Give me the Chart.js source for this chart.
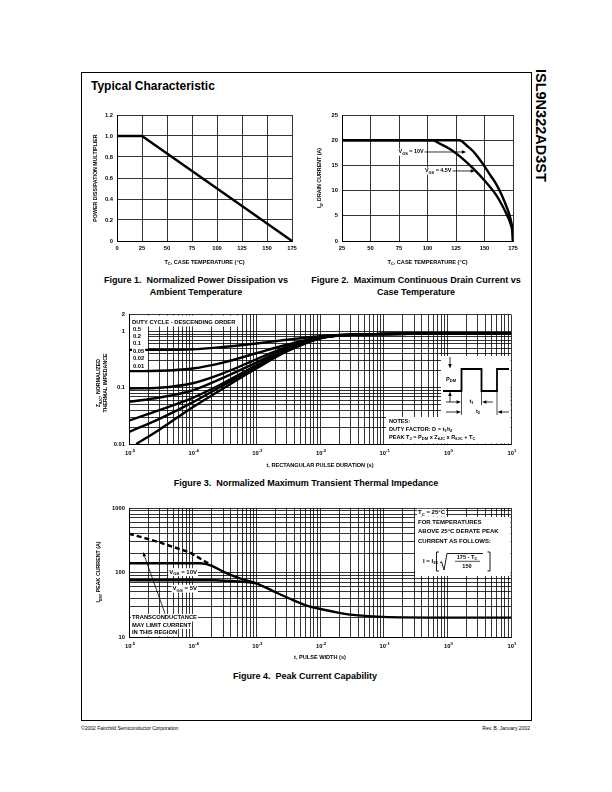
<!DOCTYPE html>
<html>
<head>
<meta charset="utf-8">
<title>ISL9N322AD3ST Typical Characteristic</title>
<script src="https://cdn.jsdelivr.net/npm/chart.js@4.4.1/dist/chart.umd.min.js"></script>
<style>
  html, body { margin: 0; padding: 0; background: #fff; }
  #page { position: relative; width: 612px; height: 792px; overflow: hidden;
          font-family: "Liberation Sans", Arial, Helvetica, sans-serif; color: #000; }
  .frame { position: absolute; left: 81px; top: 72px; width: 449px; height: 647px; border: 1px solid #000; }
  .title { position: absolute; left: 91px; top: 79px; font-size: 12px; line-height: 14px; font-weight: bold; white-space: nowrap; }
  .side { position: absolute; left: 533px; top: 69px; writing-mode: vertical-rl; font-size: 14.5px; line-height: 16px; font-weight: bold; }
  .cap { position: absolute; width: 300px; text-align: center; font-size: 9px; line-height: 12px; font-weight: bold; white-space: nowrap; }
  .foot { position: absolute; top: 725px; font-size: 5px; line-height: 6px; white-space: nowrap; }
  .cw { position: absolute; }
</style>
</head>
<body>
<div id="page">
  <div class="frame"></div>
  <div class="title">Typical Characteristic</div>
  <div class="side">ISL9N322AD3ST</div>
  <div class="cap" style="left:46px; top:274px">Figure 1.&nbsp; Normalized Power Dissipation vs<br>Ambient Temperature</div>
  <div class="cap" style="left:266px; top:274px">Figure 2.&nbsp; Maximum Continuous Drain Current vs<br>Case Temperature</div>
  <div class="cap" style="left:156px; top:477px">Figure 3.&nbsp; Normalized Maximum Transient Thermal Impedance</div>
  <div class="cap" style="left:155px; top:670px">Figure 4.&nbsp; Peak Current Capability</div>
  <div class="foot" style="left:81px">©2002 Fairchild Semiconductor Corporation</div>
  <div class="foot" style="right:82px">Rev. B, January 2002</div>
</div>
<script>
const FONT = '"Liberation Sans", Arial, Helvetica, sans-serif';
Chart.defaults.font.family = FONT;
Chart.defaults.font.size = 6;
Chart.defaults.color = '#000';

// Figure 1: power dissipation multiplier vs case temperature
const fig1Temp = [0, 25, 175];
const fig1Multiplier = [1.0, 1.0, 0.0];
const fig1XTicks = [0, 25, 50, 75, 100, 125, 150, 175];
const fig1XLabels = ['0', '25', '50', '75', '100', '125', '150', '175'];
const fig1YTicks = [0, 0.2, 0.4, 0.6, 0.8, 1.0, 1.2];
const fig1YLabels = ['0', '0.2', '0.4', '0.6', '0.8', '1.0', '1.2'];

// Figure 2: drain current vs case temperature
const fig2Temp10V = [25, 128, 135, 140, 145, 150, 155, 160, 165, 170, 173, 174.5, 175];
const fig2Id10V = [20, 20, 18.8, 17.8, 16.4, 14.8, 13.1, 11.4, 9.2, 6.4, 4.2, 2.1, 0];
const fig2Temp45V = [25, 105, 110, 120, 130, 140, 150, 160, 165, 170, 173, 174.5, 175];
const fig2Id45V = [20, 20, 19.4, 18.2, 16.5, 14.4, 12.0, 9.2, 7.3, 5.0, 3.3, 1.7, 0];
const fig2XTicks = [25, 50, 75, 100, 125, 150, 175];
const fig2XLabels = ['25', '50', '75', '100', '125', '150', '175'];
const fig2YTicks = [0, 5, 10, 15, 20, 25];
const fig2YLabels = ['0', '5', '10', '15', '20', '25'];

// Figure 3: normalized transient thermal impedance
const fig3Time = [1e-5, 3e-5, 1e-4, 3e-4, 1e-3, 3e-3, 1e-2, 3e-2, 1e-1, 1, 10];
const fig3Z050 = [0.47, 0.47, 0.48, 0.53, 0.61, 0.71, 0.82, 0.88, 0.90, 0.92, 0.93];
const fig3Z020 = [0.197, 0.20, 0.22, 0.28, 0.41, 0.58, 0.79, 0.88, 0.90, 0.92, 0.93];
const fig3Z010 = [0.097, 0.10, 0.12, 0.18, 0.32, 0.53, 0.78, 0.87, 0.90, 0.92, 0.93];
const fig3Z005 = [0.056, 0.067, 0.09, 0.15, 0.28, 0.50, 0.77, 0.87, 0.90, 0.92, 0.93];
const fig3Z002 = [0.026, 0.040, 0.066, 0.12, 0.25, 0.47, 0.76, 0.87, 0.90, 0.92, 0.93];
const fig3Z001 = [0.0163, 0.028, 0.055, 0.11, 0.23, 0.45, 0.76, 0.87, 0.90, 0.92, 0.93];
const fig3SingleTime = [1.3e-5, 3e-5, 1e-4, 3e-4, 1e-3, 3e-3, 1e-2, 3e-2, 1e-1, 1, 10];
const fig3Single = [0.01, 0.018, 0.045, 0.097, 0.22, 0.44, 0.75, 0.87, 0.90, 0.92, 0.93];
const fig3DutyLabels = ['0.5', '0.2', '0.1', '0.05', '0.02', '0.01'];
const fig3YDecades = [0.01, 0.1, 1, 2];
const fig3YLabels = ['0.01', '0.1', '1', '2'];

// Figure 4: peak current capability
const fig4DashTime = [1e-5, 2.8e-5, 9e-5, 2e-4];
const fig4DashCurrent = [400, 300, 205, 129];
const fig4Time10V = [1e-5, 1.3e-4, 2e-4, 3e-4, 5.5e-4, 1e-3, 1.8e-3, 3.3e-3, 6e-3, 1.1e-2, 2e-2, 3.6e-2, 9.5e-2, 1, 10];
const fig4Current10V = [139, 139, 127, 103, 81, 68, 52, 39.5, 31, 26.7, 23.7, 21.8, 20.5, 20, 20];
const fig4Time5V = [1e-5, 2e-4, 4e-4, 7e-4, 1e-3];
const fig4Current5V = [76, 76, 74, 71, 68];
const fig4YDecades = [10, 100, 1000];
const fig4YLabels = ['10', '100', '1000'];

// shared log time axis: labels are 10 raised to these exponents
const timeDecades = [1e-5, 1e-4, 1e-3, 1e-2, 1e-1, 1, 10];
const timeExponents = ['-5', '-4', '-3', '-2', '-1', '0', '1'];
const logSteps = [1, 2, 3, 4, 5, 6, 7, 8, 9];

function logGrid(starts, extra) {
  const g = [];
  starts.forEach(d => logSteps.forEach(m => g.push(m * d)));
  return g.concat(extra);
}
function labelFor(v, at, labels) {
  const i = at.findIndex(a => Math.abs(a - v) <= Math.abs(a) * 1e-6 + 1e-12);
  return i < 0 ? '' : labels[i];
}
function axis(o) {
  return {
    type: o.type || 'linear',
    min: o.min, max: o.max,
    afterBuildTicks: s => { s.ticks = o.grid.map(v => ({ value: v })); },
    ticks: {
      autoSkip: false, maxRotation: 0, minRotation: 0, padding: o.pad,
      color: '#000', font: { size: 5.8, family: FONT, weight: 'bold' },
      callback: v => labelFor(v, o.at, o.labels)
    },
    grid: { color: '#000', lineWidth: 0.8, drawTicks: false },
    border: { color: '#000', width: 1 }
  };
}
function series(xs, ys, extra) {
  return Object.assign({
    data: xs.map((x, i) => ({ x, y: ys[i] })),
    borderColor: '#000', borderWidth: 2.4, pointRadius: 0, fill: false, tension: 0
  }, extra || {});
}

// text with sub/superscript parts
function txt(ctx, parts, x, y, o = {}) {
  const size = o.size || 6;
  const weight = o.bold ? 'bold ' : '';
  const segs = (Array.isArray(parts) ? parts : [parts])
    .map(p => typeof p === 'string' ? { t: p, m: '' } : { t: p[0], m: p[1] });
  let w = 0;
  for (const s of segs) {
    s.fs = s.m ? size * 0.72 : size;
    ctx.font = weight + s.fs + 'px ' + FONT;
    s.w = ctx.measureText(s.t).width;
    w += s.w;
  }
  ctx.save();
  ctx.translate(x, y);
  if (o.rot) ctx.rotate(o.rot);
  let cx = o.align === 'left' ? 0 : o.align === 'right' ? -w : -w / 2;
  if (o.bg) { ctx.fillStyle = '#fff'; ctx.fillRect(cx - 1, -size * 0.62, w + 2, size * 1.3); }
  ctx.fillStyle = '#000';
  ctx.textAlign = 'left';
  ctx.textBaseline = 'middle';
  for (const s of segs) {
    ctx.font = weight + s.fs + 'px ' + FONT;
    const dy = s.m === 'sub' ? size * 0.32 : s.m === 'sup' ? -size * 0.4 : 0;
    ctx.fillText(s.t, cx, dy);
    cx += s.w;
  }
  ctx.restore();
  return w;
}
function path(ctx, pts, lw) {
  ctx.beginPath();
  pts.forEach(([x, y], i) => i ? ctx.lineTo(x, y) : ctx.moveTo(x, y));
  ctx.lineWidth = lw || 0.8;
  ctx.strokeStyle = '#000';
  ctx.stroke();
}
function arrow(ctx, x1, y1, x2, y2, lw) {
  const a = Math.atan2(y2 - y1, x2 - x1), L = 4.5, W = 1.8;
  const bx = x2 - L * Math.cos(a), by = y2 - L * Math.sin(a);
  path(ctx, [[x1, y1], [bx, by]], lw || 0.8);
  ctx.beginPath();
  ctx.moveTo(x2, y2);
  ctx.lineTo(bx + W * Math.sin(a), by - W * Math.cos(a));
  ctx.lineTo(bx - W * Math.sin(a), by + W * Math.cos(a));
  ctx.closePath();
  ctx.fillStyle = '#000';
  ctx.fill();
}
function white(ctx, x, y, w, h) { ctx.fillStyle = '#fff'; ctx.fillRect(x, y, w, h); }
// decade labels of a log time axis, placed by the chart's x scale
function timeTicks(ctx, X, a) {
  timeDecades.forEach((d, i) => txt(ctx, ['10', [timeExponents[i], 'sup']], X(d) + 1, a.b + 9.5, { size: 5.8, bold: true }));
}

// box: canvas position on the page, area: wanted plot area (page px)
function makeChart(spec) {
  const { box, area } = spec;
  const wrap = document.createElement('div');
  wrap.className = 'cw';
  Object.assign(wrap.style, { left: box.x + 'px', top: box.y + 'px', width: box.w + 'px', height: box.h + 'px' });
  const cv = document.createElement('canvas');
  wrap.appendChild(cv);
  document.getElementById('page').appendChild(wrap);

  const yW = area.l - box.x, xH = box.y + box.h - area.b;
  const zeroPad = s => { s.paddingLeft = 0; s.paddingRight = 0; s.paddingTop = 0; s.paddingBottom = 0; };
  spec.x.afterFit = s => { s.height = xH; zeroPad(s); };
  spec.y.afterFit = s => { s.width = yW; zeroPad(s); };

  const run = (chart, fn) => {
    if (!fn) return;
    const ctx = chart.ctx;
    const X = v => chart.scales.x.getPixelForValue(v) + box.x;
    const Y = v => chart.scales.y.getPixelForValue(v) + box.y;
    ctx.save();
    ctx.translate(-box.x, -box.y);
    fn(ctx, X, Y, area);
    ctx.restore();
  };
  const deco = {
    id: 'deco',
    beforeDatasetsDraw(chart) { run(chart, spec.under); },
    afterDatasetsDraw(chart) { run(chart, spec.over); }
  };
  return new Chart(cv, {
    type: 'line',
    data: { datasets: spec.datasets },
    options: {
      responsive: true, maintainAspectRatio: false, animation: false, events: [],
      layout: { padding: { left: 0, top: area.t - box.y, right: box.x + box.w - area.r, bottom: 0 } },
      plugins: { legend: { display: false }, tooltip: { enabled: false } },
      scales: { x: spec.x, y: spec.y }
    },
    plugins: [deco]
  });
}

const TITLE = { size: 5.6, bold: true };
const YTITLE = { size: 5.3, bold: true, rot: -Math.PI / 2 };

// ---------- Figure 1
makeChart({
  box: { x: 84, y: 105, w: 224, h: 167 },
  area: { l: 117, t: 115, r: 292, b: 241 },
  x: axis({ min: 0, max: 175, grid: fig1XTicks, at: fig1XTicks, labels: fig1XLabels, pad: 4 }),
  y: axis({ min: 0, max: 1.2, grid: fig1YTicks, at: fig1YTicks, labels: fig1YLabels, pad: 4 }),
  datasets: [series(fig1Temp, fig1Multiplier)],
  over: (ctx, X, Y, a) => {
    txt(ctx, 'POWER DISSIPATION MULTIPLIER', 96, (a.t + a.b) / 2, YTITLE);
    txt(ctx, ['T', ['C', 'sub'], ', CASE TEMPERATURE (°C)'], (a.l + a.r) / 2, 262, TITLE);
  }
});

// ---------- Figure 2
makeChart({
  box: { x: 310, y: 105, w: 218, h: 167 },
  area: { l: 342, t: 115, r: 513, b: 241 },
  x: axis({ min: 25, max: 175, grid: fig2XTicks, at: fig2XTicks, labels: fig2XLabels, pad: 4 }),
  y: axis({ min: 0, max: 25, grid: fig2YTicks, at: fig2YTicks, labels: fig2YLabels, pad: 4 }),
  datasets: [
    series(fig2Temp10V, fig2Id10V, { cubicInterpolationMode: 'monotone' }),
    series(fig2Temp45V, fig2Id45V, { cubicInterpolationMode: 'monotone' })
  ],
  over: (ctx, X, Y, a) => {
    txt(ctx, ['I', ['D', 'sub'], ', DRAIN CURRENT (A)'], 320, (a.t + a.b) / 2, YTITLE);
    txt(ctx, ['T', ['C', 'sub'], ', CASE TEMPERATURE (°C)'], (a.l + a.r) / 2, 262, TITLE);
    txt(ctx, ['V', ['GS', 'sub'], ' = 10V'], X(96.5), Y(17.66), { size: 5.4, bold: true, align: 'right', bg: true });
    arrow(ctx, X(97.5), Y(17.66), X(134), Y(17.66));
    txt(ctx, ['V', ['GS', 'sub'], ' = 4.5V'], X(121), Y(13.9), { size: 5.4, bold: true, align: 'right', bg: true });
    arrow(ctx, X(122), Y(13.9), X(141.7), Y(13.9));
  }
});

// ---------- Figure 3
makeChart({
  box: { x: 84, y: 305, w: 444, h: 168 },
  area: { l: 129, t: 314.5, r: 511, b: 444 },
  x: axis({ type: 'logarithmic', min: 1e-5, max: 10, grid: logGrid(timeDecades.slice(0, 6), [10]),
            at: [], labels: [], pad: 5 }),
  y: axis({ type: 'logarithmic', min: 0.01, max: 2, grid: logGrid([0.01, 0.1], [1, 2]),
            at: fig3YDecades, labels: fig3YLabels, pad: 4 }),
  datasets: [
    series(fig3Time, fig3Z050, { cubicInterpolationMode: 'monotone' }),
    series(fig3Time, fig3Z020, { cubicInterpolationMode: 'monotone' }),
    series(fig3Time, fig3Z010, { cubicInterpolationMode: 'monotone' }),
    series(fig3Time, fig3Z005, { cubicInterpolationMode: 'monotone' }),
    series(fig3Time, fig3Z002, { cubicInterpolationMode: 'monotone' }),
    series(fig3Time, fig3Z001, { cubicInterpolationMode: 'monotone' }),
    series(fig3SingleTime, fig3Single, { cubicInterpolationMode: 'monotone' })
  ],
  under: (ctx, X, Y, a) => {
    white(ctx, a.l + 1, a.t + 1, 111, 11);
    white(ctx, a.l + 1, a.t + 1, 18, 55);
    white(ctx, 441, 356, a.r - 441 - 0.5, 61);
    white(ctx, 386, 417, a.r - 386 - 0.5, a.b - 417 - 0.5);
  },
  over: (ctx, X, Y, a) => {
    timeTicks(ctx, X, a);
    txt(ctx, ['Z', ['θJC', 'sub'], ', NORMALIZED'], 99, 383, YTITLE);
    txt(ctx, 'THERMAL IMPEDANCE', 106, 383, YTITLE);
    txt(ctx, 't, RECTANGULAR PULSE DURATION (s)', (a.l + a.r) / 2, 465, TITLE);

    txt(ctx, 'DUTY CYCLE - DESCENDING ORDER', 132, 322.5, { size: 5.8, bold: true, align: 'left' });
    const rowY = [329, 336, 343.5, 351, 358.5, 366];
    fig3DutyLabels.forEach((d, i) => txt(ctx, d, 133, rowY[i], { size: 5.8, bold: true, align: 'left', bg: true }));

    // pulse sketch
    path(ctx, [[443, 391], [461.5, 391], [461.5, 369], [481.5, 369], [481.5, 391], [497, 391], [497, 369], [509, 369]], 1.8);
    arrow(ctx, 450, 357, 450, 368.5);
    arrow(ctx, 450, 402, 450, 391.5);
    txt(ctx, ['P', ['DM', 'sub']], 446, 379, { size: 5.6, bold: true, align: 'left' });
    path(ctx, [[461.5, 391], [461.5, 415]], 0.7);
    path(ctx, [[481.5, 391], [481.5, 405]], 0.7);
    path(ctx, [[497, 391], [497, 415]], 0.7);
    arrow(ctx, 446, 402, 461, 402);
    arrow(ctx, 493, 402, 482, 402);
    txt(ctx, ['t', ['1', 'sub']], 471.5, 401, { size: 5.6, bold: true });
    arrow(ctx, 446, 412, 461, 412);
    arrow(ctx, 509, 412, 497.5, 412);
    txt(ctx, ['t', ['2', 'sub']], 478, 411, { size: 5.6, bold: true });

    txt(ctx, 'NOTES:', 389, 421.5, { size: 5.6, bold: true, align: 'left' });
    txt(ctx, ['DUTY FACTOR: D = t', ['1', 'sub'], '/t', ['2', 'sub']], 389, 429, { size: 5.6, bold: true, align: 'left' });
    txt(ctx, ['PEAK T', ['J', 'sub'], ' = P', ['DM', 'sub'], ' x Z', ['θJC', 'sub'], ' x R', ['θJC', 'sub'], ' + T', ['C', 'sub']],
        389, 437, { size: 5.6, bold: true, align: 'left' });
  }
});

// ---------- Figure 4
makeChart({
  box: { x: 84, y: 498, w: 444, h: 167 },
  area: { l: 129, t: 508, r: 511, b: 637 },
  x: axis({ type: 'logarithmic', min: 1e-5, max: 10, grid: logGrid(timeDecades.slice(0, 6), [10]),
            at: [], labels: [], pad: 5 }),
  y: axis({ type: 'logarithmic', min: 10, max: 1000, grid: logGrid([10, 100], [1000]),
            at: fig4YDecades, labels: fig4YLabels, pad: 4 }),
  datasets: [
    series(fig4DashTime, fig4DashCurrent, { borderDash: [5, 3] }),
    series(fig4Time10V, fig4Current10V, { cubicInterpolationMode: 'monotone' }),
    series(fig4Time5V, fig4Current5V, { cubicInterpolationMode: 'monotone' })
  ],
  under: (ctx, X, Y, a) => {
    white(ctx, 415, 517, a.r - 415 - 0.5, 59);
  },
  over: (ctx, X, Y, a) => {
    timeTicks(ctx, X, a);
    txt(ctx, ['I', ['DM', 'sub'], ', PEAK CURRENT (A)'], 99, 572, YTITLE);
    txt(ctx, 't, PULSE WIDTH (s)', (a.l + a.r) / 2, 657, TITLE);

    txt(ctx, ['V', ['GS', 'sub'], ' = 10V'], X(1.17e-4), Y(102), { size: 6, bold: true, align: 'right', bg: true });
    txt(ctx, ['V', ['GS', 'sub'], ' = 5V'], X(1.17e-4), Y(56.5), { size: 6, bold: true, align: 'right', bg: true });

    txt(ctx, 'TRANSCONDUCTANCE', 132, 617.5, { size: 5.8, bold: true, align: 'left', bg: true });
    txt(ctx, 'MAY LIMIT CURRENT', 132, 625, { size: 5.8, bold: true, align: 'left', bg: true });
    txt(ctx, 'IN THIS REGION', 132, 632.5, { size: 5.8, bold: true, align: 'left', bg: true });
    arrow(ctx, 165, 613.5, 143, 552);

    txt(ctx, ['T', ['C', 'sub'], ' = 25°C'], 418, 512.5, { size: 6, bold: true, align: 'left', bg: true });
    txt(ctx, 'FOR TEMPERATURES', 418, 522, { size: 6, bold: true, align: 'left' });
    txt(ctx, 'ABOVE 25°C DERATE PEAK', 418, 531.5, { size: 6, bold: true, align: 'left' });
    txt(ctx, 'CURRENT AS FOLLOWS:', 418, 541.5, { size: 6, bold: true, align: 'left' });
    txt(ctx, ['I = I', ['25', 'sub']], 423, 561, { size: 6, bold: true, align: 'left' });
    path(ctx, [[439, 552], [436.5, 552], [436.5, 571], [439, 571]], 0.9);
    path(ctx, [[487.5, 552], [490, 552], [490, 571], [487.5, 571]], 0.9);
    path(ctx, [[440, 563], [441.5, 561.5], [444, 570], [447, 553.5], [483, 553.5]], 0.9);
    txt(ctx, ['175 - T', ['C', 'sub']], 467, 557, { size: 5.6, bold: true });
    path(ctx, [[455, 561.3], [480, 561.3]], 0.7);
    txt(ctx, '150', 467, 566, { size: 5.6, bold: true });
  }
});
</script>
</body>
</html>
